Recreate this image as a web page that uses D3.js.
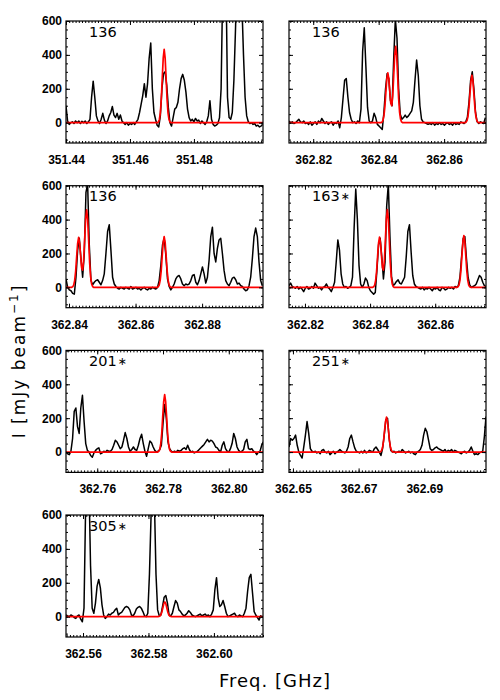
<!DOCTYPE html>
<html>
<head>
<meta charset="utf-8">
<script src="https://cdn.jsdelivr.net/npm/d3@7"></script>
<style>
  body { margin: 0; background: #fff; }
  .tick text { font-family: "Liberation Sans", Arial, sans-serif; font-weight: bold; font-size: 12px; fill: #000; }
  .tick line { stroke: #000; stroke-width: 1; }
  .domain { display: none; }
</style>
</head>
<body>
<script>
// panel labels, frequency windows and tick values
var panelLabels = ["136", "136", "136", "163", "201", "251", "305"];
var panelStars = [false, false, false, true, true, true, true];
var freqRanges = [[351.44, 351.5016], [362.8126, 362.8728], [362.8391, 362.8983], [362.8151, 362.8756],
                  [362.7505, 362.8104], [362.6488, 362.7088], [362.5548, 362.6150]];
var xTicks = [[351.44, 351.46, 351.48], [362.82, 362.84, 362.86], [362.84, 362.86, 362.88], [362.82, 362.84, 362.86],
              [362.76, 362.78, 362.80], [362.65, 362.67, 362.69], [362.56, 362.58, 362.60]];
var yTicks = [0, 200, 400, 600];
var yRange = [-120, 600];
var chanWidth = 0.0005;   // GHz per channel, first channel at the window start

// observed spectra (mJy/beam), one value per channel
var spec1 = [100,10,-10,0,5,-5,10,0,10,-5,8,0,10,-5,5,20,150,245,150,40,10,-5,20,55,15,-5,10,40,60,95,
  45,30,55,20,45,10,0,-10,0,-15,-5,-10,0,-10,5,20,60,110,160,230,150,230,380,470,200,60,20,-15,-25,40,
  200,290,300,220,90,0,-20,30,80,90,120,200,260,285,250,180,80,30,10,20,5,25,10,15,-5,10,0,-10,5,40,
  130,20,-10,-20,-15,-5,30,200,800,1200,900,150,30,20,60,250,550,900,1100,1000,700,400,150,40,5,-5,0,-10,-5,-20,
  -15,-25,-20,-10];
var spec2 = [10,0,5,-5,0,10,20,5,0,10,-5,0,-10,5,-15,-5,5,-10,10,0,25,10,-5,5,-10,0,5,-15,0,-5,
  10,-30,30,140,250,260,150,60,20,0,5,-5,10,0,80,420,560,330,90,10,0,10,55,30,-10,-20,-30,-40,60,200,
  290,260,130,100,380,610,500,200,50,20,30,45,30,40,55,70,120,250,370,280,100,20,5,0,-5,-10,-5,-10,0,-15,
  -5,-10,0,-10,-5,-15,-5,0,-10,-5,-15,0,-10,-5,-10,5,0,-5,5,30,120,250,300,200,60,5,-5,5,0,-5,30];
var spec3 = [50,0,-15,-20,-35,-40,60,220,290,170,60,200,560,610,250,40,15,30,40,45,30,15,40,80,200,330,370,220,60,20,
  5,-5,-10,0,-5,-10,0,-5,-10,5,-10,-5,0,-10,-5,-15,-5,0,-10,-15,-5,-10,0,-5,-10,0,40,130,250,290,
  190,50,5,-15,0,20,50,65,70,50,20,10,20,15,20,40,70,75,30,15,40,80,120,80,25,60,160,300,355,200,
  150,230,280,290,200,100,40,20,10,30,55,60,45,20,25,10,5,-10,-20,-15,10,60,170,300,350,300,150,40,10];
var spec4 = [10,25,5,0,-5,5,-10,0,-10,-25,-5,5,-10,-5,5,-5,25,10,-5,0,-15,0,5,20,0,-10,-25,0,30,150,
  280,220,80,20,0,5,-5,0,10,60,350,580,400,130,20,0,20,55,40,0,-20,-30,-40,-30,100,250,290,180,50,150,
  480,610,300,60,10,20,35,45,25,20,40,60,180,330,370,210,70,20,5,0,-5,-10,0,-15,-5,-10,0,-10,-20,-5,
  -10,0,-15,-20,0,-5,-15,-10,0,-5,0,-10,5,0,10,60,180,290,300,170,60,15,0,5,10,20,45,70,60,30,10,5];
var spec5 = [0,-10,-15,5,80,240,260,150,110,260,335,180,50,10,0,-20,-30,-5,10,20,25,-10,-5,5,0,10,5,5,15,40,
  70,60,40,20,30,70,115,80,30,5,15,30,15,10,40,80,105,50,5,-25,20,65,55,30,10,0,5,15,40,170,
  280,200,60,20,5,0,5,0,10,5,10,20,25,15,40,15,0,5,-5,0,5,15,25,35,45,60,75,60,70,65,
  50,30,25,10,0,40,60,20,5,0,20,50,110,80,30,10,0,5,15,60,75,20,15,20,5,0,-15,0,5,40,60];
var spec6 = [30,80,70,80,100,40,0,-20,-35,30,100,180,110,20,5,0,5,-5,0,-10,10,15,0,-5,5,-15,-5,5,-10,0,
  5,15,5,0,-5,5,30,80,100,60,25,5,0,-5,5,-5,10,-5,0,10,5,0,20,30,15,0,-20,20,100,190,
  200,80,10,0,5,-5,0,5,0,15,5,-5,0,5,-5,0,-10,-15,0,5,15,40,100,140,120,70,20,10,15,25,
  30,20,15,10,5,15,0,10,5,15,0,10,5,0,-5,-10,0,5,-5,0,10,30,5,-15,-10,-15,-5,0,5,90,210];
var spec7 = [10,5,0,10,5,-5,-10,5,10,-15,-30,50,650,900,800,300,50,20,80,180,220,170,70,10,-10,0,15,10,20,25,
  40,50,10,20,25,40,55,60,55,40,10,5,20,45,55,60,50,30,5,0,20,250,600,900,700,250,40,5,10,60,
  115,125,80,10,5,20,60,95,80,40,30,15,5,10,20,35,25,10,5,0,5,10,15,5,10,15,5,10,0,15,
  40,160,230,110,60,70,95,60,20,0,5,10,15,20,5,0,10,5,0,20,50,150,230,250,140,30,10,-5,-20,5,0];

// red line fits: [frequency GHz, mJy/beam]
var fit1 = [[351.44,0],[351.4686,0],[351.4689,5],[351.4692,19],[351.4695,58],[351.4698,139],[351.4701,264],[351.4704,381],
  [351.4707,433],[351.4710,381],[351.4713,264],[351.4716,139],[351.4719,58],[351.4722,19],[351.4725,5],[351.4728,0],[351.5016,0]];
var fit2 = [[362.8126,0],[362.8407,0],[362.8410,3],[362.8413,13],[362.8416,40],[362.8419,95],[362.8422,179],[362.8425,259],
  [362.8428,294],[362.8431,260],[362.8434,184],[362.8437,115],[362.8440,101],[362.8443,157],[362.8446,278],[362.8449,397],
  [362.8452,451],[362.8455,397],[362.8458,275],[362.8461,144],[362.8464,61],[362.8467,20],[362.8470,5],[362.8473,0],
  [362.8664,0],[362.8667,3],[362.8670,12],[362.8673,38],[362.8676,90],[362.8679,171],[362.8682,246],[362.8685,280],
  [362.8688,246],[362.8691,171],[362.8694,90],[362.8697,38],[362.8700,12],[362.8703,3],[362.8706,0],[362.8728,0]];
var fit3 = [[362.8391,0],[362.8408,0],[362.8411,3],[362.8414,13],[362.8417,40],[362.8420,95],[362.8423,180],[362.8426,260],
  [362.8429,295],[362.8432,261],[362.8435,185],[362.8438,115],[362.8441,102],[362.8444,160],[362.8447,282],[362.8450,403],
  [362.8453,458],[362.8456,403],[362.8459,279],[362.8462,147],[362.8465,62],[362.8468,20],[362.8471,5],[362.8474,0],
  [362.8665,0],[362.8668,3],[362.8671,13],[362.8674,41],[362.8677,96],[362.8680,183],[362.8683,264],[362.8686,300],
  [362.8689,264],[362.8692,183],[362.8695,96],[362.8698,41],[362.8701,13],[362.8704,3],[362.8707,0],[362.8983,0]];
var fit4 = [[362.8151,0],[362.8408,0],[362.8411,3],[362.8414,13],[362.8417,40],[362.8420,95],[362.8423,181],[362.8426,261],
  [362.8429,297],[362.8432,262],[362.8435,186],[362.8438,116],[362.8441,102],[362.8444,160],[362.8447,282],[362.8450,404],
  [362.8453,459],[362.8456,404],[362.8459,280],[362.8462,147],[362.8465,62],[362.8468,20],[362.8471,5],[362.8474,0],
  [362.8667,0],[362.8670,3],[362.8673,13],[362.8676,41],[362.8679,98],[362.8682,186],[362.8685,268],[362.8688,305],
  [362.8691,268],[362.8694,186],[362.8697,98],[362.8700,41],[362.8703,13],[362.8706,3],[362.8709,0],[362.8756,0]];
var fit5 = [[362.7505,0],[362.7784,0],[362.7787,4],[362.7790,15],[362.7793,46],[362.7796,108],[362.7799,207],[362.7802,298],
  [362.7805,339],[362.7808,298],[362.7811,207],[362.7814,108],[362.7817,46],[362.7820,15],[362.7823,4],[362.7826,0],[362.8104,0]];
var fit6 = [[362.6488,0],[362.6764,0],[362.6767,2],[362.6770,9],[362.6773,28],[362.6776,66],[362.6779,126],[362.6782,181],
  [362.6785,206],[362.6788,181],[362.6791,126],[362.6794,66],[362.6797,28],[362.6800,9],[362.6803,2],[362.6806,0],[362.7088,0]];
var fit7 = [[362.5548,0],[362.5829,0],[362.5832,1],[362.5835,4],[362.5838,12],[362.5841,28],[362.5844,53],[362.5847,77],
  [362.5850,87],[362.5853,77],[362.5856,53],[362.5859,28],[362.5862,12],[362.5865,4],[362.5868,1],[362.5871,0],[362.6150,0]];

var spectra = [spec1, spec2, spec3, spec4, spec5, spec6, spec7];
var fits = [fit1, fit2, fit3, fit4, fit5, fit6, fit7];

var colLeft = [66, 289], rowTop = [21, 185.7, 350.4, 515];
var W = 197, H = 122;

var svg = d3.select("body").append("svg")
    .attr("width", 500)
    .attr("height", 700);

spectra.forEach(function(spec, p) {
  var left = colLeft[p % 2], top = rowTop[Math.floor(p / 2)];
  var g = svg.append("g").attr("transform", "translate(" + left + "," + top + ")");

  var x = d3.scaleLinear().domain(freqRanges[p]).range([0, W]);
  var y = d3.scaleLinear().domain(yRange).range([H, 0]);

  g.append("clipPath").attr("id", "clip" + p)
    .append("rect").attr("width", W).attr("height", H);

  var start = freqRanges[p][0];
  var specLine = d3.line()
      .x(function(d, i) { return x(start + i * chanWidth); })
      .y(function(d) { return y(d); });
  var fitLine = d3.line()
      .x(function(d) { return x(d[0]); })
      .y(function(d) { return y(d[1]); });

  var plot = g.append("g").attr("clip-path", "url(#clip" + p + ")");
  plot.append("path").datum(spec)
    .attr("d", specLine)
    .attr("fill", "none")
    .attr("stroke", "#000")
    .attr("stroke-width", 1.5)
    .attr("stroke-linejoin", "round");
  plot.append("path").datum(fits[p])
    .attr("d", fitLine)
    .attr("fill", "none")
    .attr("stroke", "#ff0000")
    .attr("stroke-width", 1.7)
    .attr("stroke-linejoin", "round");

  // minor ticks
  var d0 = freqRanges[p][0], d1 = freqRanges[p][1];
  var minorX = d3.range(Math.ceil(d0 * 1000), Math.floor(d1 * 1000) + 1).map(function(k) { return k / 1000; });
  var minorY = d3.range(-100, 601, 50);

  g.append("g").attr("transform", "translate(0," + H + ")")
    .call(d3.axisBottom(x).tickValues(minorX).tickSize(-2).tickFormat(""));
  g.append("g")
    .call(d3.axisTop(x).tickValues(minorX).tickSize(-2).tickFormat(""));
  g.append("g")
    .call(d3.axisLeft(y).tickValues(minorY).tickSize(-2).tickFormat(""));
  g.append("g").attr("transform", "translate(" + W + ",0)")
    .call(d3.axisRight(y).tickValues(minorY).tickSize(-2).tickFormat(""));

  // major ticks
  g.append("g").attr("transform", "translate(0," + H + ")")
    .call(d3.axisBottom(x).tickValues(xTicks[p]).tickSize(-4).tickPadding(12.5).tickFormat(d3.format(".2f")));
  g.append("g")
    .call(d3.axisTop(x).tickValues(xTicks[p]).tickSize(-4).tickFormat(""));
  g.append("g")
    .call(d3.axisLeft(y).tickValues(yTicks).tickSize(-4).tickPadding(4)
      .tickFormat(p % 2 === 0 ? d3.format("d") : ""));
  g.append("g").attr("transform", "translate(" + W + ",0)")
    .call(d3.axisRight(y).tickValues(yTicks).tickSize(-4).tickFormat(""));

  g.append("rect")
    .attr("width", W).attr("height", H)
    .attr("fill", "none")
    .attr("stroke", "#000")
    .attr("stroke-width", 1.2);

  var lab = g.append("text")
    .attr("x", 23)
    .attr("y", 15.5)
    .style("font-family", "DejaVu Sans, sans-serif")
    .style("font-size", "14.5px")
    .text(panelLabels[p]);
  if (panelStars[p]) {
    lab.append("tspan")
      .attr("dx", 1)
      .attr("dy", -1)
      .style("font-size", "11px")
      .text("\u2217");
  }
});

// axis titles
var yTitle = svg.append("text")
    .attr("transform", "translate(25,361) rotate(-90)")
    .attr("text-anchor", "middle")
    .style("font-family", "DejaVu Sans, sans-serif")
    .style("font-size", "17px")
    .style("letter-spacing", "2px");
yTitle.append("tspan").text("I [mJy beam");
yTitle.append("tspan").attr("dy", -7).style("font-size", "12px").text("\u22121");
yTitle.append("tspan").attr("dy", 7).text("]");

svg.append("text")
    .attr("x", 219)
    .attr("y", 687)
    .style("font-family", "DejaVu Sans, sans-serif")
    .style("font-size", "18px")
    .style("letter-spacing", "1px")
    .text("Freq. [GHz]");
</script>
</body>
</html>
